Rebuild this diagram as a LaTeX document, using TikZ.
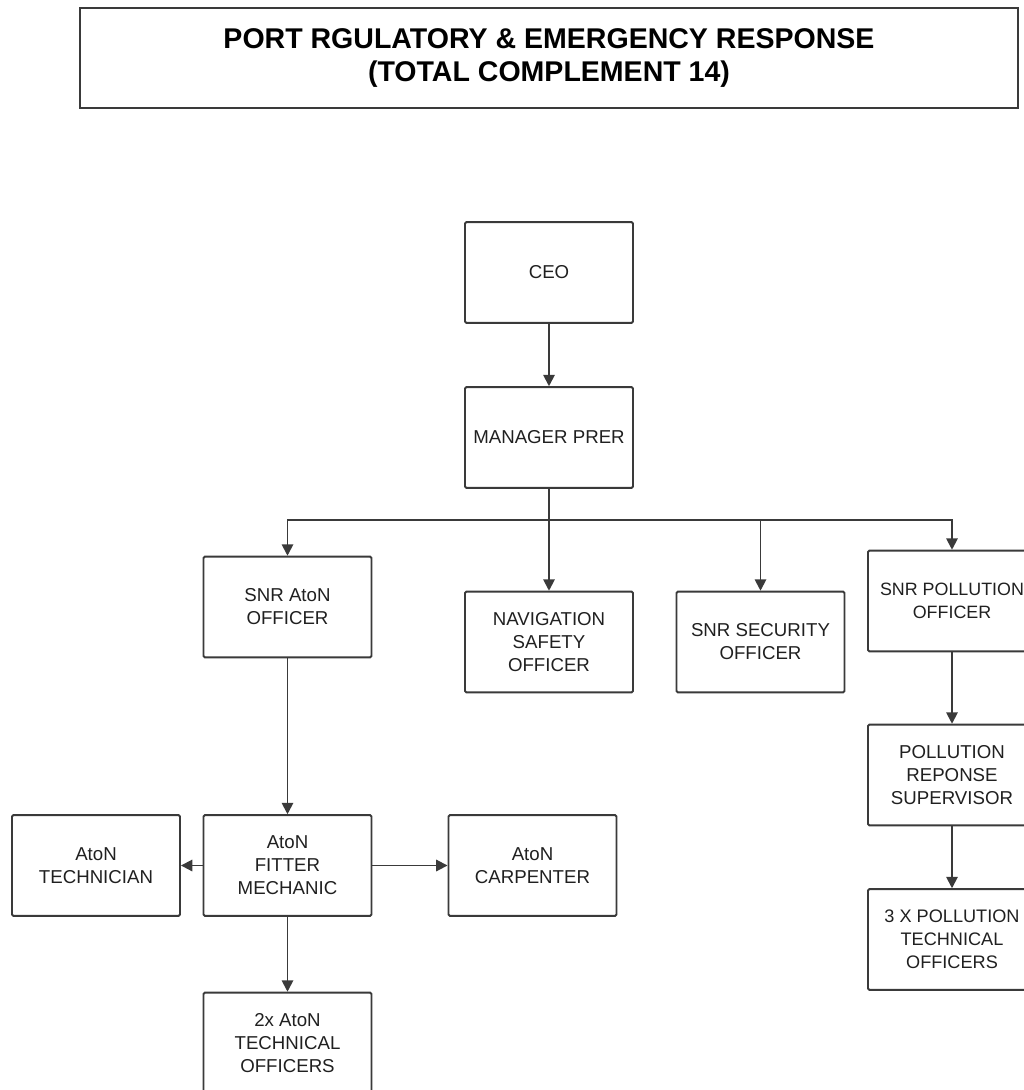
\documentclass[tikz,border=0pt]{standalone}
\usepackage{fontspec}
\setmainfont{Liberation Sans}
\usepackage{xcolor}
\usetikzlibrary{arrows.meta,shapes}

\definecolor{boxline}{HTML}{3A3A3A}
\definecolor{boxtext}{HTML}{202020}

\tikzset{
  post/.style={draw=boxline, line width=1.4pt, rounded corners=1pt, fill=white,
    minimum width=126pt, minimum height=75.5pt, align=center,
    text=boxtext, font=\fontsize{14pt}{17.2pt}\selectfont, inner sep=2pt},
  link/.style={draw=boxline, line width=1.4pt,
    -{Triangle[length=8.5pt,width=8.5pt]}}
}

\begin{document}
\begin{tikzpicture}[x=0.75pt,y=-0.75pt]
  \useasboundingbox (0,0) rectangle (1024,1090);
  \clip (0,0) rectangle (1024,1090);

  % heading
  \node[draw=boxline, line width=1.4pt, minimum width=703.5pt, minimum height=74.5pt,
    align=center, font=\bfseries\fontsize{21.4pt}{24.8pt}\selectfont, text=black]
    (head) at (549,58) {PORT RGULATORY \& EMERGENCY RESPONSE\\(TOTAL COMPLEMENT 14)};

  \node[post] (ceo)  at (549,272.5) {CEO};
  \node[post] (mgr)  at (549,437.5) {MANAGER PRER};

  \node[post] (snraton) at (287.5,607)  {SNR AtoN\\OFFICER};
  \node[post] (nav)     at (549,642)    {NAVIGATION\\SAFETY\\OFFICER};
  \node[post] (sec)     at (760.5,642)  {SNR SECURITY\\OFFICER};
  \node[post, font=\fontsize{13.4pt}{17.2pt}\selectfont]
                (snrpol)  at (952,601)    {SNR POLLUTION\\OFFICER};

  \node[post] (polsup)  at (952,775)    {POLLUTION\\REPONSE\\SUPERVISOR};
  \node[post, font=\fontsize{13.6pt}{17.2pt}\selectfont]
                (poltech) at (952,939.5)  {3 X POLLUTION\\TECHNICAL\\OFFICERS};

  \node[post] (fitter)  at (287.5,865.5) {AtoN\\FITTER\\MECHANIC};
  \node[post] (atontec) at (96,865.5)    {AtoN\\TECHNICIAN};
  \node[post] (carp)    at (532.5,865.5) {AtoN\\CARPENTER};
  \node[post] (atonoff) at (287.5,1043)  {2x AtoN\\TECHNICAL\\OFFICERS};

  \coordinate (bus) at (549,520);

  \draw[link] (ceo) -- (mgr);
  \draw[draw=boxline, line width=1.4pt] (mgr.south) -- (bus);
  \draw[link] (bus) -| (snraton.north);
  \draw[link] (bus) -- (nav.north);
  \draw[link] (bus) -| (sec.north);
  \draw[link] (bus) -| (snrpol.north);

  \draw[link] (snrpol) -- (polsup);
  \draw[link] (polsup) -- (poltech);

  \draw[link] (snraton) -- (fitter);
  \draw[link] (fitter) -- (atontec);
  \draw[link] (fitter) -- (carp);
  \draw[link] (fitter) -- (atonoff);
\end{tikzpicture}
\end{document}
